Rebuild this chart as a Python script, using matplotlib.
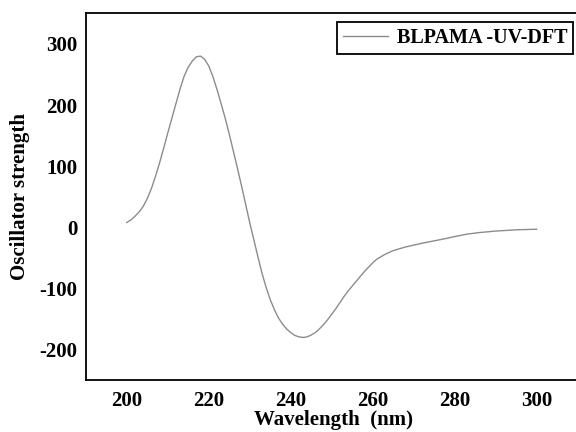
import matplotlib
matplotlib.use("Agg")
import matplotlib.pyplot as plt

wavelength = [200, 201, 202, 203, 204, 205, 206, 207, 208, 209, 210, 211, 212,
              213, 214, 215, 216, 217, 218, 219, 220, 221, 222, 223, 224, 225,
              226, 227, 228, 229, 230, 231, 232, 233, 234, 235, 236, 237, 238,
              239, 240, 241, 242, 243, 244, 245, 246, 247, 248, 249, 250, 251,
              252, 253, 254, 255, 256, 257, 258, 259, 260, 261, 262, 263, 264,
              265, 266, 268, 270, 272, 275, 278, 280, 283, 286, 290, 295, 300]
strength = [8, 12, 18, 25, 34, 47, 63, 83, 105, 129, 154, 178, 202,
            226, 247, 262, 272, 279, 280, 275, 264, 247, 226, 203, 179, 153,
            125, 97, 68, 38, 8, -20, -48, -75, -98, -118, -134, -148, -158,
            -166, -172, -176.5, -179, -180, -179, -176, -172, -166, -159, -151, -142, -133,
            -123, -113, -104, -96, -88, -80, -72, -65, -58, -52, -48, -44, -41,
            -38, -36, -32, -29, -26, -22, -18, -15, -11, -8.5, -6, -4, -3]
series_label = "BLPAMA -UV-DFT"
xticks = [200, 220, 240, 260, 280, 300]
yticks = [-200, -100, 0, 100, 200, 300]

plt.rcParams['font.family'] = ['Liberation Serif', 'DejaVu Serif']
plt.rcParams['font.weight'] = 'bold'
plt.rcParams['axes.unicode_minus'] = False

fig = plt.figure(figsize=(5.76, 4.32), dpi=100)
ax = fig.add_axes([85.7/576, 1-380.3/432, 496.1/576, (380.3-13.3)/432])
ax.plot(wavelength, strength, color='#8c8c8c', lw=1.0, label=series_label)
ax.set_xlim(190, 311)
ax.set_ylim(-250, 350)
ax.set_xticks(xticks)
ax.set_yticks(yticks)
ax.tick_params(length=0, labelsize=15)
ax.tick_params(axis='y', pad=6)
ax.tick_params(axis='x', pad=8)
for lab in ax.get_xticklabels() + ax.get_yticklabels():
    lab.set_fontweight('bold')
for s in ax.spines.values():
    s.set_linewidth(1.3)
ax.set_xlabel("Wavelength  (nm)", fontsize=15, fontweight='bold', va='center')
ax.xaxis.set_label_coords((333 - 85.7) / 496.1, (380.3 - 420) / 367)
ax.set_ylabel("Oscillator strength", fontsize=15, fontweight='bold', va='center')
ax.yaxis.set_label_coords((20 - 85.7) / 496.1, 0.5)

leg = ax.legend(loc='upper right', bbox_to_anchor=(573.3/576, 1-21.7/432),
                bbox_transform=fig.transFigure, borderaxespad=0,
                fancybox=False, framealpha=1, edgecolor='black',
                prop={'size': 14.5, 'weight': 'bold'},
                handlelength=2.2, handletextpad=0.45, borderpad=0.3)
leg.get_frame().set_linewidth(1.3)

fig.savefig("out.png", dpi=100)
